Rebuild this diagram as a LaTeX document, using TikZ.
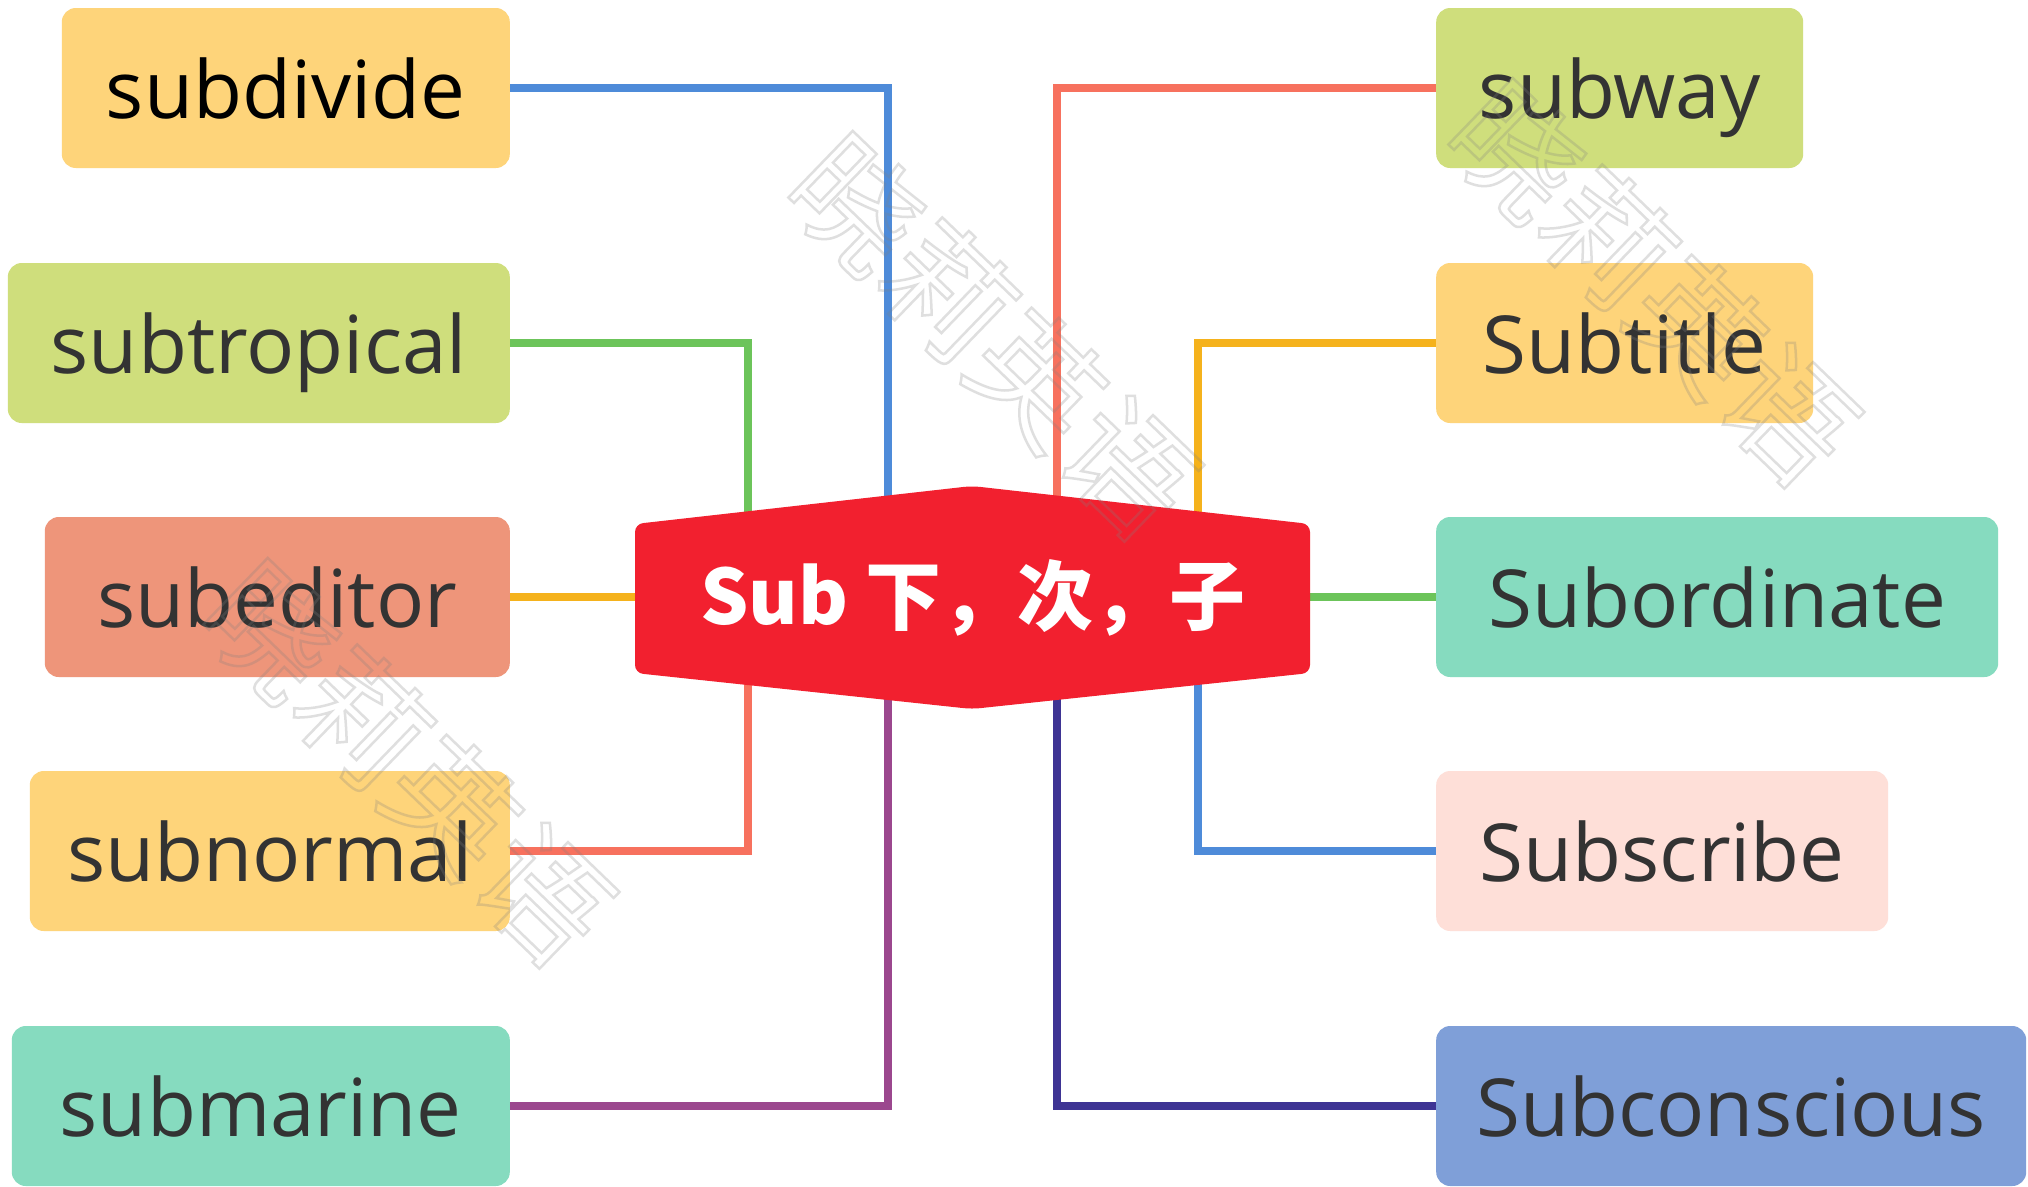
\documentclass[tikz,border=0pt]{standalone}
\usepackage{fontspec}
\setmainfont{Open Sans}
\newfontfamily\cjk{Noto Sans CJK SC}
\definecolor{cYel}{HTML}{FED47A}
\definecolor{cLime}{HTML}{CFDE7C}
\definecolor{cSal}{HTML}{EE957A}
\definecolor{cMint}{HTML}{86DBBF}
\definecolor{cPink}{HTML}{FEDFD8}
\definecolor{cBlu}{HTML}{7F9FD8}
\definecolor{cHub}{HTML}{F2202F}
\definecolor{lBlue}{HTML}{4E8BD9}
\definecolor{lGreen}{HTML}{6CC45A}
\definecolor{lOrange}{HTML}{F5B21C}
\definecolor{lSalmon}{HTML}{F7715E}
\definecolor{lPurple}{HTML}{9B478E}
\definecolor{lIndigo}{HTML}{3E3494}
\definecolor{txt}{HTML}{333333}
\begin{document}
\begin{tikzpicture}[x=1pt,y=-1pt,
  wbox/.style={rounded corners=14pt, minimum height=160pt, inner sep=0pt,
    font=\fontsize{80}{96}\selectfont, text=txt, text height=60pt, text depth=0pt},
  lbox/.style={wbox, anchor=east},
  rbox/.style={wbox, anchor=west},
  link/.style={line width=8.5pt},
  wmark/.style={font=\cjk\fontsize{126}{126}\selectfont, text=gray, opacity=0.25, rotate=-44, inner sep=0pt}]
\useasboundingbox (0,0) rectangle (2028,1186);
\fill[white] (0,0) rectangle (2028,1186);
% boxes
\node[lbox, fill=cYel, minimum width=448pt, text=black] (sdv) at (510,88) {subdivide};
\node[lbox, fill=cLime, minimum width=502pt] (stp) at (510,343) {subtropical};
\node[lbox, fill=cSal, minimum width=465pt] (sed) at (510,597) {subeditor};
\node[lbox, fill=cYel, minimum width=480pt] (snm) at (510,851) {subnormal};
\node[lbox, fill=cMint, minimum width=498pt] (smr) at (510,1106) {submarine};
\node[rbox, fill=cLime, minimum width=367pt] (swy) at (1436,88) {subway};
\node[rbox, fill=cYel, minimum width=377pt] (stt) at (1436,343) {Subtitle};
\node[rbox, fill=cMint, minimum width=562pt] (sbo) at (1436,597) {Subordinate};
\node[rbox, fill=cPink, minimum width=452pt] (ssc) at (1436,851) {Subscribe};
\node[rbox, fill=cBlu, minimum width=590pt] (scn) at (1436,1106) {Subconscious};
% connector ends inside the hub
\coordinate (h1) at (888,597);
\coordinate (h2) at (748,597);
\coordinate (h3) at (700,597);
\coordinate (h4) at (1057,597);
\coordinate (h5) at (1198,597);
\coordinate (h6) at (1250,597);
\draw[link, lBlue] (sdv.east) -| (h1);
\draw[link, lGreen] (stp.east) -| (h2);
\draw[link, lOrange] (sed.east) -- (h3);
\draw[link, lSalmon] (snm.east) -| (h2);
\draw[link, lPurple] (smr.east) -| (h1);
\draw[link, lSalmon] (swy.west) -| (h4);
\draw[link, lOrange] (stt.west) -| (h5);
\draw[link, lGreen] (sbo.west) -- (h6);
\draw[link, lBlue] (ssc.west) -| (h5);
\draw[link, lIndigo] (scn.west) -| (h4);
% hub
\fill[cHub, rounded corners=8pt] (635,524) -- (972,486) -- (1310,524) -- (1310,673) -- (972,709) -- (635,673) -- cycle;
\node[text=white, font=\cjk\bfseries\fontsize{76}{80}\selectfont, text height=55pt, text depth=0pt, inner sep=0pt] (hub) at (973,597) {Sub 下，次，子};
% watermarks
\node[wmark] (wm1) at (993,335) {\special{pdf:literal direct 1 Tr 2.5 w}晓莉英语\special{pdf:literal direct 0 Tr}};
\node[wmark] (wm2) at (1653,282) {\special{pdf:literal direct 1 Tr 2.5 w}晓莉英语\special{pdf:literal direct 0 Tr}};
\node[wmark] (wm3) at (408,762) {\special{pdf:literal direct 1 Tr 2.5 w}晓莉英语\special{pdf:literal direct 0 Tr}};
\end{tikzpicture}
\end{document}
